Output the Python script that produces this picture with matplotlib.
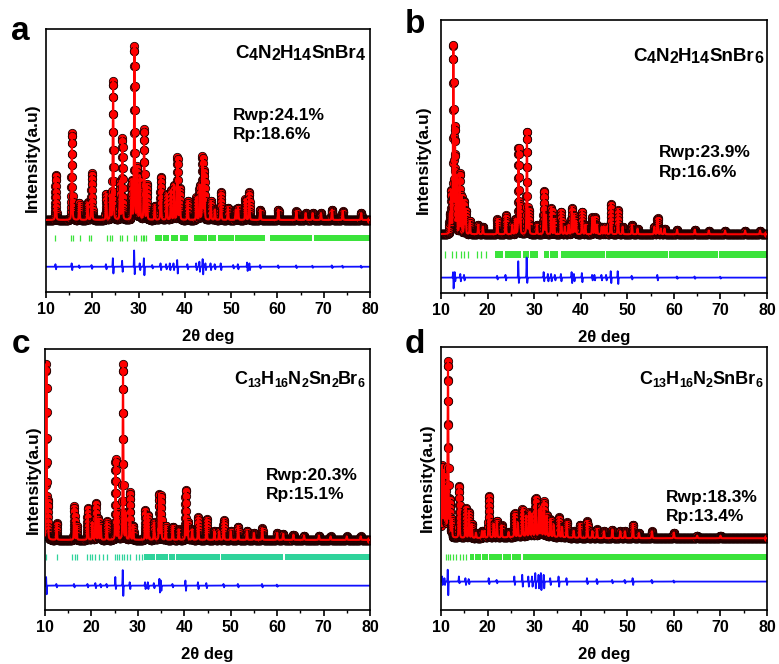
import numpy as np
import matplotlib.pyplot as plt
from matplotlib.ticker import MultipleLocator

plt.rcParams['font.family'] = ['Liberation Sans', 'DejaVu Sans']
plt.rcParams['font.weight'] = 'bold'
plt.rcParams['axes.labelweight'] = 'bold'

#------------------------------ data ------------------------------
# 2theta grid of the refinement
tt = np.arange(10.0, 80.001, 0.02)

# panel a : C4N2H14SnBr4
a_pos = [12.1, 15.6, 17.2, 19.0, 19.9, 23.0, 23.9, 24.5, 26.0, 26.5, 28.5, 29.1, 29.7, 30.3,
         31.2, 31.8, 33.5, 34.8, 36.1, 37.0, 37.7, 38.4, 38.9, 40.6, 42.5, 43.2, 43.8, 44.2,
         45.6, 46.5, 47.8, 49.3, 51.0, 51.5, 53.1, 53.9, 56.3, 60.2, 64.1, 66.1, 67.6, 69.4,
         71.8, 74.1, 78.1]
a_int = [26, 50, 10, 10, 27, 15, 14, 80, 22, 47, 22, 100, 30, 25,
         52, 20, 8, 25, 15, 17, 20, 36, 18, 11, 13, 20, 36, 28,
         11, 6, 16, 7, 6, 7, 12, 16, 6, 6, 5, 4, 4, 4,
         6, 5, 4]
a_diff_pos = [12.1, 15.6, 17.2, 19.9, 23.0, 24.5, 26.5, 29.1, 30.3, 31.2, 33.0, 34.8, 36.0,
              36.8, 37.6, 38.4, 40.6, 42.5, 43.2, 43.9, 44.5, 45.6, 46.5, 47.8, 50.5, 51.5,
              53.5, 54.0, 56.3, 60.2, 64.1, 67.6, 71.8, 74.1, 78.1]
a_diff_up = [1.5, 2, 0.8, 1, 1.5, 5, 3.5, 9.5, 2, 5, 1, 2, 1.5,
             2, 2, 4, 1.5, 2, 3, 4.5, 2, 2, 1.5, 2, 1, 1.5,
             2.5, 2, 1, 0.8, 0.8, 0.6, 0.8, 0.6, 0.6]
a_diff_dn = [1.5, 2, 0.8, 1.2, 1.5, 4, 3, 4.5, 2, 5, 1, 2, 1.5,
             2, 2, 4, 1.5, 2, 3, 4.5, 2, 2, 1.5, 2, 1, 1.5,
             2.5, 2, 1, 0.8, 0.8, 0.6, 0.8, 0.6, 0.6]
a_ticks = [11.9, 15.5, 15.9, 17.3, 19.3, 19.8, 23.1, 23.8, 24.3, 25.9, 26.4, 27.5,
           29.0, 29.5, 30.5, 30.9, 31.2, 31.6]
a_bands = [(33.5, 35.0), (35.2, 36.6), (37.1, 38.6), (38.9, 40.7), (42.0, 44.7), (45.0, 46.8),
           (47.1, 50.6), (50.9, 57.3), (58.4, 67.4), (67.8, 80.0)]

# panel b : C4N2H14SnBr6
b_pos = [11.9, 12.2, 12.65, 13.0, 13.4, 14.0, 14.4, 15.0, 15.3, 16.2, 18.0, 19.0, 22.1, 23.9,
         25.3, 26.0, 26.65, 27.0, 28.45, 28.9, 30.6, 32.1, 32.5, 33.7, 34.3, 35.8, 36.6, 37.4,
         38.1, 38.6, 39.0, 40.3, 41.0, 42.5, 43.0, 43.5, 44.5, 45.0, 45.5, 46.5, 48.0, 49.0,
         51.0, 52.2, 55.8, 56.5, 57.2, 58.0, 60.7, 64.5, 67.5, 71.0, 75.3, 78.5]
b_int = [10, 22, 100, 55, 30, 32, 20, 17, 12, 7, 5, 4, 8, 10,
         5, 8, 46, 15, 55, 12, 5, 23, 10, 14, 8, 12, 4, 5,
         14, 10, 7, 12, 5, 9, 9, 5, 4, 4, 4, 16, 13, 4,
         5, 3, 4, 8.5, 3, 3, 2.5, 2.5, 2, 2, 2, 2]
b_diff_pos = [12.65, 13.0, 14.2, 15.0, 22.1, 23.9, 26.65, 28.45, 32.1, 33.0, 33.7, 34.5, 35.8,
              38.1, 38.6, 40.3, 42.5, 43.0, 44.5, 45.5, 46.5, 48.0, 51.0, 56.5, 60.7, 64.5, 70.0]
b_diff_up = [3, 3, 2, 1.5, 1, 1.5, 9, 11, 3, 2, 2, 1.5, 2,
             3, 2, 2.5, 1.5, 1.5, 1.5, 1.5, 3.5, 3.5, 1, 1.5, 0.6, 0.6, 0.5]
b_diff_dn = [6, 2, 2, 1.5, 1, 1.5, 3, 3, 2, 2, 2, 1.5, 2,
             3, 2, 2.5, 1.5, 1.5, 1.5, 1.5, 3, 3.5, 1, 1.5, 0.6, 0.6, 0.5]
b_ticks = [10.9, 12.4, 13.3, 14.2, 14.9, 15.9, 17.8, 18.6, 19.7]
b_bands = [(21.6, 23.4), (23.7, 27.2), (27.5, 28.9), (29.2, 30.8), (32.1, 33.2), (33.5, 35.1),
           (35.8, 45.2), (45.5, 58.7), (59.0, 69.5), (69.8, 80.0)]

# panel c : C13H16N2Sn2Br6
c_pos = [10.3, 10.6, 12.5, 16.3, 16.8, 19.2, 20.2, 20.9, 21.5, 22.0, 23.3, 25.2, 25.7, 26.8,
         27.4, 28.3, 29.0, 31.6, 32.2, 33.5, 34.6, 35.0, 36.0, 37.5, 38.8, 40.3, 40.7, 41.7,
         43.0, 44.8, 46.5, 47.5, 48.5, 50.0, 51.6, 53.5, 55.0, 56.8, 60.0, 61.3, 63.5, 65.8,
         69.0, 71.5, 75.0, 78.0]
c_int = [100, 20, 9.5, 19, 8, 18, 10, 21, 12, 8, 10.5, 46, 15, 100,
         15, 27, 8, 17, 14, 10, 26, 25, 8, 7.6, 6, 28.6, 10, 6,
         13, 12, 5, 5, 11.4, 5, 7.6, 5, 4, 6.7, 4, 3.5, 3, 2.5,
         2.5, 2, 2, 2]
c_diff_pos = [10.3, 12.5, 16.3, 19.2, 20.9, 22.0, 23.3, 25.2, 26.8, 28.3, 31.6, 32.2, 33.5,
              34.7, 35.0, 37.5, 40.3, 43.0, 44.8, 48.5, 51.6, 56.8, 60.0]
c_diff_up = [5, 1, 1, 1, 1.5, 1, 1, 5, 9, 2, 2, 2, 1.5,
             4, 3, 1, 3, 2, 1.5, 1, 1, 1, 0.6]
c_diff_dn = [5, 1, 1, 1, 1.5, 1, 1, 2, 6, 2, 2, 2, 1.5,
             4, 3, 1, 3, 2, 1.5, 1, 1, 1, 0.6]
c_ticks = [10.2, 12.5, 15.9, 16.4, 16.9, 19.1, 19.6, 20.2, 20.8, 21.7, 22.4, 23.3, 25.0,
           25.5, 26.0, 26.6, 27.0, 27.6, 28.2, 29.6, 30.2, 30.8]
c_bands = [(31.3, 33.8), (34.0, 36.5), (36.8, 38.0), (38.3, 47.6), (47.9, 61.3), (61.6, 80.0)]

# panel d : C13H16N2SnBr6
d_pos = [10.2, 10.6, 11.0, 11.5, 11.9, 12.3, 13.9, 15.3, 16.0, 16.6, 17.5, 18.8, 19.3, 20.3,
         21.3, 22.0, 23.0, 24.5, 25.8, 26.5, 27.5, 28.3, 29.0, 29.6, 30.3, 31.0, 31.5, 32.1,
         32.7, 33.5, 34.2, 35.3, 36.0, 37.0, 38.5, 39.8, 41.4, 42.5, 43.5, 45.0, 46.8, 48.5,
         49.5, 51.2, 52.5, 55.3, 60.0, 65.0, 70.0]
d_int = [38, 34, 25, 100, 20, 10, 30, 17, 15, 8, 3, 4, 4, 24,
         8, 9.6, 7, 3, 13.5, 8, 16, 12, 14, 13, 22, 15, 17, 20,
         12, 10, 7, 11.5, 6, 8.7, 4, 7.7, 9.6, 4, 5, 4, 5, 4,
         4, 7.7, 3, 4, 3.3, 1.5, 1.5]
d_hump_pos = [10.6, 30.0]
d_hump_int = [4, 1.0]
d_hump_fwhm = [1.5, 12]
d_diff_pos = [10.3, 10.8, 11.5, 13.9, 15.3, 16.0, 20.3, 22.0, 25.8, 27.5, 28.8, 29.6, 30.3,
              31.0, 31.5, 32.1, 33.5, 35.3, 37.0, 41.4, 43.5, 46.8, 49.5, 51.2, 55.3, 60.0]
d_diff_up = [3, 2, 7, 3, 2, 1.5, 2, 1, 3, 4, 3, 3, 5,
             4, 5, 4, 2, 3, 2, 2, 1.5, 1, 1, 2, 1, 0.6]
d_diff_dn = [2, 2, 8, 1, 2, 1.5, 1.5, 1, 2, 3, 3, 3, 4,
             4, 5, 4, 2, 3, 2, 1.5, 1.5, 1, 1, 2, 1, 0.6]
d_ticks = [11.0, 11.4, 12.0, 12.6, 13.3, 14.0, 14.8, 15.4]
d_bands = [(16.2, 17.0), (17.4, 18.6), (18.9, 20.0), (20.3, 23.0), (23.3, 25.0), (25.3, 27.2),
           (27.5, 80.0)]

# formulas as (text, subscript?) pieces
a_formula = [('C', 0), ('4', 1), ('N', 0), ('2', 1), ('H', 0), ('14', 1), ('SnBr', 0), ('4', 1)]
b_formula = [('C', 0), ('4', 1), ('N', 0), ('2', 1), ('H', 0), ('14', 1), ('SnBr', 0), ('6', 1)]
c_formula = [('C', 0), ('13', 1), ('H', 0), ('16', 1), ('N', 0), ('2', 1), ('Sn', 0), ('2', 1),
             ('Br', 0), ('6', 1)]
d_formula = [('C', 0), ('13', 1), ('H', 0), ('16', 1), ('N', 0), ('2', 1), ('SnBr', 0), ('6', 1)]

#------------------------------ helpers ------------------------------
def profile(pos, hgt, fwhm):
    # pseudo-Voigt peak sum
    y = np.zeros_like(tt)
    for p, h, w in zip(pos, hgt, fwhm):
        u = (tt - p) / (w / 2)
        y += h * (0.3 / (1 + u**2) + 0.7 * np.exp(-np.log(2) * u**2))
    return y


def diff_curve(pos, up, dn, s=0.06):
    d = np.zeros_like(tt)
    for p, a, b in zip(pos, up, dn):
        d += a * np.exp(-((tt - p + s) / s)**2) - b * np.exp(-((tt - p - s) / s)**2)
    return d


def panel(ax, ycal, ydiff, ticks, bands, tcol, ylim, tick_y, diff_y):
    ax.plot(tt, ycal, 'o', ms=6, mfc='red', mec='#1a0000', mew=0.6, zorder=2)
    ax.plot(tt, ycal, '-', color='red', lw=1.5, zorder=3)
    ax.plot(tt, ydiff + diff_y, color='#1010ff', lw=1.3, zorder=2)
    ax.vlines(ticks, tick_y - 1.8, tick_y + 1.8, color=tcol, lw=0.9)
    ax.broken_barh([(s, e - s) for s, e in bands], (tick_y - 1.8, 3.6), color=tcol, lw=0)
    ax.set_xlim(10, 80)
    ax.set_ylim(*ylim)
    ax.set_yticks([])
    ax.xaxis.set_major_locator(MultipleLocator(10))
    ax.xaxis.set_minor_locator(MultipleLocator(5))
    ax.tick_params(axis='x', which='major', direction='out', length=4, width=1.2,
                   labelsize=11.5, pad=3)
    ax.tick_params(axis='x', which='minor', direction='out', length=2.5, width=1.0)
    for lbl in ax.get_xticklabels():
        lbl.set_fontweight('bold')
    for sp in ax.spines.values():
        sp.set_linewidth(1.2)
    ax.set_xlabel('2θ deg', fontsize=12, fontweight='bold', labelpad=9)


W, H = 779, 664
fig = plt.figure(figsize=(W / 100, H / 100), dpi=100)
renderer = fig.canvas.get_renderer()


def box(l, t, r, b):
    return [l / W, 1 - b / H, (r - l) / W, (b - t) / H]


def formula(parts, x_right, y_base, size, sub_size, drop):
    # lay the pieces out left to right, right-aligned at x_right (pixels from left)
    items = []
    for s, sub in parts:
        t = fig.text(0, 0, s, fontsize=sub_size if sub else size, fontweight='bold',
                     va='baseline')
        items.append((t, sub, t.get_window_extent(renderer).width))
    x = x_right - sum(w for _, _, w in items)
    for t, sub, w in items:
        t.set_position((x / W, 1 - (y_base + (drop if sub else 0)) / H))
        x += w


ax_a = fig.add_axes(box(46, 29, 370, 292))
ax_b = fig.add_axes(box(441, 20, 767, 293))
ax_c = fig.add_axes(box(45, 349, 370, 610))
ax_d = fig.add_axes(box(441, 347, 767, 610))

panel(ax_a, profile(a_pos, a_int, [0.2] * len(a_pos)),
      diff_curve(a_diff_pos, a_diff_up, a_diff_dn),
      a_ticks, a_bands, '#3be33b', (-41.6, 110.4), -10.6, -27.0)
panel(ax_b, profile(b_pos, b_int, [0.18] * len(b_pos)),
      diff_curve(b_diff_pos, b_diff_up, b_diff_dn),
      b_ticks, b_bands, '#3be33b', (-31.3, 114.2), -10.7, -23.1)
panel(ax_c, profile(c_pos, c_int, [0.18] * len(c_pos)),
      diff_curve(c_diff_pos, c_diff_up, c_diff_dn),
      c_ticks, c_bands, '#2fd39b', (-40.0, 109.0), -9.9, -26.1)
panel(ax_d, profile(d_pos, d_int, [0.2] * len(d_pos)) + profile(d_hump_pos, d_hump_int, d_hump_fwhm),
      diff_curve(d_diff_pos, d_diff_up, d_diff_dn),
      d_ticks, d_bands, '#3be33b', (-41.4, 110.4), -11.0, -25.0)

formula(a_formula, 365, 58, 13.5, 11.5, 2)
formula(b_formula, 763, 61, 13.5, 11.5, 2)
formula(c_formula, 365, 384, 13, 9, 3)
formula(d_formula, 763, 384, 13, 9, 3)

# R factors
for ax, x, y1, y2, rwp, rp in [(ax_a, 0.577, 0.673, 0.597, '24.1', '18.6'),
                               (ax_b, 0.669, 0.513, 0.440, '23.9', '16.6'),
                               (ax_c, 0.679, 0.517, 0.441, '20.3', '15.1'),
                               (ax_d, 0.690, 0.426, 0.354, '18.3', '13.4')]:
    ax.text(x, y1, 'Rwp:' + rwp + '%', transform=ax.transAxes, ha='left', va='center',
            fontsize=12.5)
    ax.text(x, y2, 'Rp:' + rp + '%', transform=ax.transAxes, ha='left', va='center',
            fontsize=12.5)

# y labels and panel letters
for x, y in [(32, 158), (423, 160), (33, 480), (427, 478)]:
    fig.text(x / W, 1 - y / H, 'Intensity(a.u)', rotation=90, ha='center', va='center',
             fontsize=12.5)
for s, x, y in [('a', 20, 40), ('b', 415, 33), ('c', 21, 353), ('d', 415, 353)]:
    fig.text(x / W, 1 - y / H, s, ha='center', va='baseline', fontsize=24)

fig.savefig('out.png', dpi=100)
